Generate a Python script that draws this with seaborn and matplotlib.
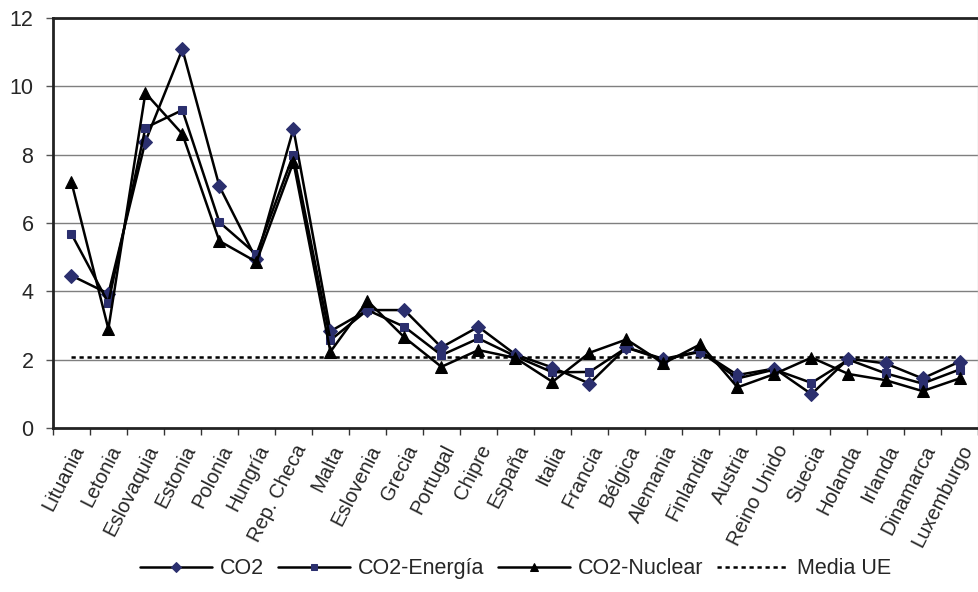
import matplotlib
matplotlib.use("Agg")
import matplotlib.pyplot as plt
from matplotlib.ticker import FixedLocator, NullFormatter
import seaborn as sns
import pandas as pd

paises = ["Lituania", "Letonia", "Eslovaquia", "Estonia", "Polonia", "Hungría",
          "Rep. Checa", "Malta", "Eslovenia", "Grecia", "Portugal", "Chipre",
          "España", "Italia", "Francia", "Bélgica", "Alemania", "Finlandia",
          "Austria", "Reino Unido", "Suecia", "Holanda", "Irlanda", "Dinamarca",
          "Luxemburgo"]

co2 = [4.46, 3.93, 8.38, 11.08, 7.07, 4.93, 8.75, 2.83, 3.45, 3.45, 2.36, 2.96,
       2.15, 1.77, 1.30, 2.36, 2.02, 2.25, 1.55, 1.74, 0.99, 2.03, 1.89, 1.45,
       1.94]
co2_energia = [5.68, 3.66, 8.78, 9.30, 6.02, 5.08, 8.00, 2.57, 3.45, 2.96, 2.13,
               2.62, 2.10, 1.63, 1.64, 2.35, 2.00, 2.23, 1.45, 1.71, 1.32, 2.00,
               1.60, 1.30, 1.71]
co2_nuclear = [7.20, 2.90, 9.80, 8.60, 5.47, 4.86, 7.78, 2.23, 3.72, 2.65, 1.79,
               2.28, 2.05, 1.35, 2.20, 2.59, 1.89, 2.45, 1.19, 1.58, 2.06, 1.58,
               1.40, 1.08, 1.45]
media_ue = [2.07] * len(paises)

y_ticks = [0, 2, 4, 6, 8, 10, 12]

navy = "#2B2F6E"

sns.set_theme(style="white")
plt.rcParams["font.family"] = ["Liberation Sans", "DejaVu Sans"]

df = pd.DataFrame({
    "pos": range(len(paises)),
    "pais": paises,
    "CO2": co2,
    "CO2-Energía": co2_energia,
    "CO2-Nuclear": co2_nuclear,
    "Media UE": media_ue,
})

fig = plt.figure(figsize=(9.79, 5.92), dpi=100)
ax = fig.add_axes([0.054, 0.277, 0.945, 0.693])

# horizontal gridlines behind the series
for v in y_ticks[1:-1]:
    ax.axhline(v, color="#7f7f7f", lw=1.0, zorder=0)

sns.lineplot(data=df, x="pos", y="Media UE", ax=ax, color="black", lw=1.8,
             linestyle=(0, (1.7, 1.5)), label="Media UE", zorder=2)
sns.lineplot(data=df, x="pos", y="CO2", ax=ax, color="black", lw=1.8,
             marker="D", markersize=7, markerfacecolor=navy,
             markeredgecolor=navy, label="CO2", zorder=3)
sns.lineplot(data=df, x="pos", y="CO2-Energía", ax=ax, color="black", lw=1.8,
             marker="s", markersize=5.5, markerfacecolor=navy,
             markeredgecolor=navy, label="CO2-Energía", zorder=3)
sns.lineplot(data=df, x="pos", y="CO2-Nuclear", ax=ax, color="black", lw=1.8,
             marker="^", markersize=8.5, markerfacecolor="black",
             markeredgecolor="black", label="CO2-Nuclear", zorder=3)

ax.set_xlim(-0.5, len(paises) - 0.5)
ax.set_ylim(0, 12)
ax.set_xlabel("")
ax.set_ylabel("")

# category labels at centres, tick marks at category boundaries
ax.set_xticks(range(len(paises)))
ax.set_xticklabels(paises, rotation=63, ha="right", rotation_mode="anchor",
                   fontsize=14.5)
ax.xaxis.set_minor_locator(FixedLocator([i - 0.5 for i in range(len(paises) + 1)]))
ax.xaxis.set_minor_formatter(NullFormatter())
ax.tick_params(axis="x", which="major", length=0, pad=10)
ax.tick_params(axis="x", which="minor", length=5, width=1.0, color="#333333",
               direction="out", bottom=True)

ax.set_yticks(y_ticks)
ax.set_yticklabels([str(v) for v in y_ticks], fontsize=15.5)
ax.tick_params(axis="y", length=5, width=1.0, color="#555555",
               direction="out", left=True, pad=9)

for side in ["left", "top", "bottom"]:
    ax.spines[side].set_color("#222222")
    ax.spines[side].set_linewidth(2.0)
ax.spines["right"].set_color("#c8c8c8")
ax.spines["right"].set_linewidth(1.0)

handles, labels = ax.get_legend_handles_labels()
order = ["CO2", "CO2-Energía", "CO2-Nuclear", "Media UE"]
hmap = dict(zip(labels, handles))
ax.legend([hmap[k] for k in order], order, loc="center",
          bbox_to_anchor=(0.5, -0.343), ncol=4, frameon=False, fontsize=15.5,
          handlelength=3.35, columnspacing=0.65, handletextpad=0.35,
          markerscale=0.75)

fig.savefig("out.png", dpi=100, facecolor="white")
